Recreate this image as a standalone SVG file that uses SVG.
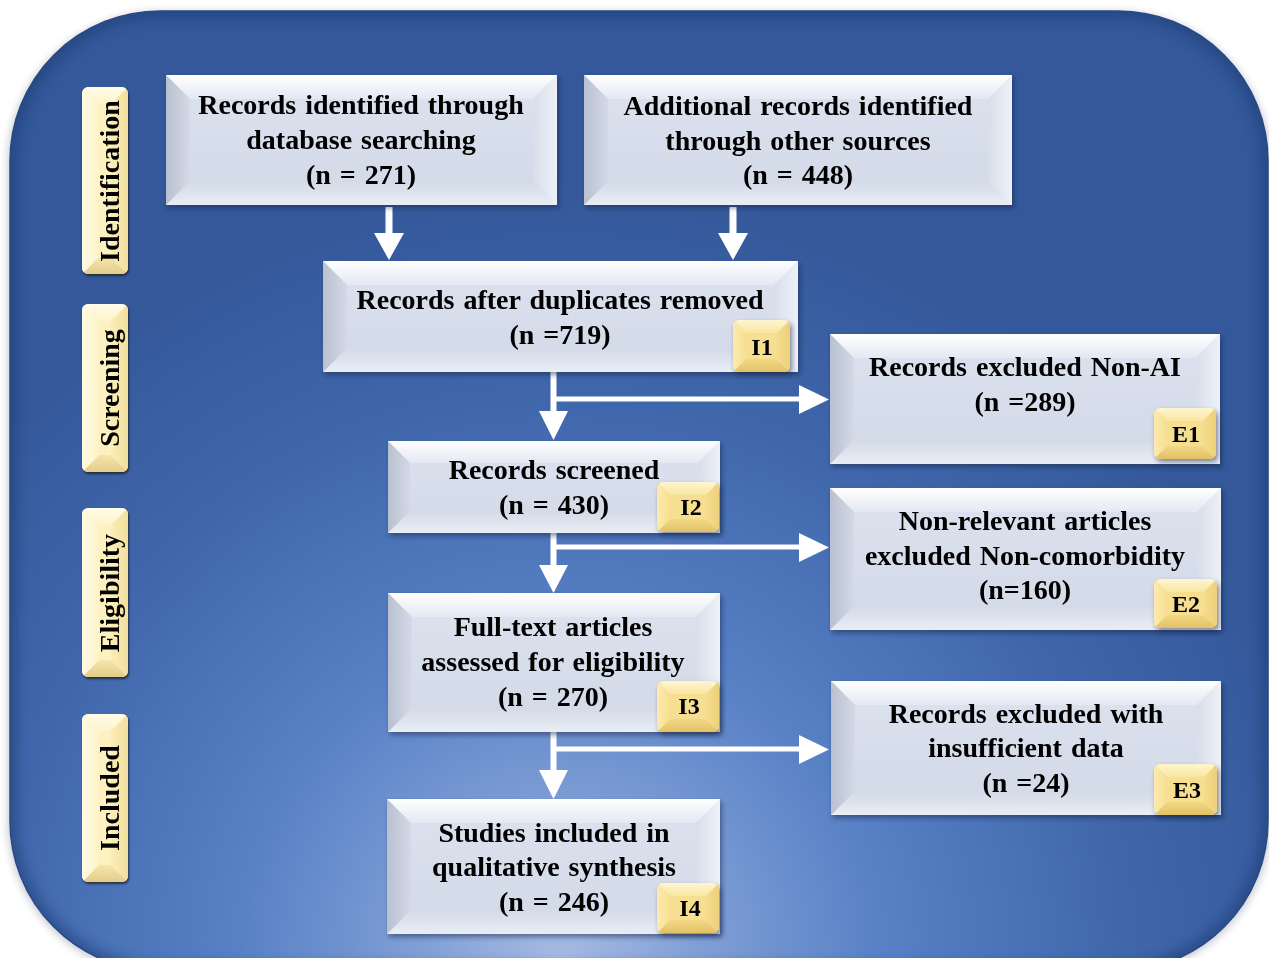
<svg xmlns="http://www.w3.org/2000/svg" width="1269" height="958" viewBox="0 0 1269 958">
  <defs>
    <style>
      .t { font-family: "Liberation Serif", "Times New Roman", serif; font-weight: bold; fill: #000; }
      .box { font-size: 28px; word-spacing: 2px; text-anchor: middle; }
      .tag { font-size: 24px; text-anchor: middle; }
      .side { font-size: 28px; text-anchor: middle; }
      .arrow { fill: #FFFFFF; }
      .face { fill: url(#faceG); }
      .bt { fill: url(#topG); }
      .bl { fill: url(#leftG); }
      .br { fill: url(#rightG); }
      .bb { fill: url(#botG); }
      .yface { fill: #F7DF92; }
      .yt { fill: url(#yTopG); }
      .yl { fill: url(#yLeftG); }
      .yr { fill: url(#yRightG); }
      .yb { fill: url(#yBotG); }
      .lface { fill: #FDF1BF; }
      .lt { fill: url(#lTopG); }
      .ll { fill: url(#lLeftG); }
      .lr { fill: url(#lRightG); }
      .lb { fill: url(#lBotG); }
    </style>

    <!-- panel background -->
    <radialGradient id="bgGrad" gradientUnits="userSpaceOnUse" cx="560" cy="960" r="780">
      <stop offset="0" stop-color="#A6BBE3"/>
      <stop offset="0.18" stop-color="#809FD6"/>
      <stop offset="0.42" stop-color="#5780C5"/>
      <stop offset="0.72" stop-color="#4067AB"/>
      <stop offset="1" stop-color="#34589A"/>
    </radialGradient>
    <clipPath id="panelClip">
      <rect x="10" y="11" width="1258" height="960" rx="150" ry="150"/>
    </clipPath>
    <filter id="panelShadow" x="-5%" y="-5%" width="110%" height="110%">
      <feGaussianBlur stdDeviation="4"/>
    </filter>
    <filter id="edgeBlur" x="-5%" y="-5%" width="110%" height="110%">
      <feGaussianBlur stdDeviation="6"/>
    </filter>

    <!-- grey-blue bevelled boxes -->
    <linearGradient id="faceG" x1="0" y1="0" x2="0" y2="1">
      <stop offset="0" stop-color="#DCE2EE"/>
      <stop offset="1" stop-color="#D2D9E7"/>
    </linearGradient>
    <linearGradient id="topG" x1="0" y1="0" x2="0" y2="1">
      <stop offset="0" stop-color="#FFFFFF"/>
      <stop offset="1" stop-color="#E3E8F2"/>
    </linearGradient>
    <linearGradient id="leftG" x1="0" y1="0" x2="1" y2="0">
      <stop offset="0" stop-color="#B9C0D0"/>
      <stop offset="1" stop-color="#D3D9E6"/>
    </linearGradient>
    <linearGradient id="rightG" x1="1" y1="0" x2="0" y2="0">
      <stop offset="0" stop-color="#EEF1F7"/>
      <stop offset="1" stop-color="#D8DEEA"/>
    </linearGradient>
    <linearGradient id="botG" x1="0" y1="1" x2="0" y2="0">
      <stop offset="0" stop-color="#E9EDF5"/>
      <stop offset="1" stop-color="#D3DAE7"/>
    </linearGradient>

    <!-- gold badges -->
    <linearGradient id="yTopG" x1="0" y1="0" x2="0" y2="1">
      <stop offset="0" stop-color="#FFF6D0"/>
      <stop offset="1" stop-color="#F9E6A2"/>
    </linearGradient>
    <linearGradient id="yLeftG" x1="0" y1="0" x2="1" y2="0">
      <stop offset="0" stop-color="#FCEBAE"/>
      <stop offset="1" stop-color="#F7DF92"/>
    </linearGradient>
    <linearGradient id="yRightG" x1="1" y1="0" x2="0" y2="0">
      <stop offset="0" stop-color="#EDD07A"/>
      <stop offset="1" stop-color="#F5DC8E"/>
    </linearGradient>
    <linearGradient id="yBotG" x1="0" y1="1" x2="0" y2="0">
      <stop offset="0" stop-color="#E2C163"/>
      <stop offset="1" stop-color="#F2D885"/>
    </linearGradient>

    <!-- pale yellow phase labels -->
    <linearGradient id="lTopG" x1="0" y1="0" x2="0" y2="1">
      <stop offset="0" stop-color="#FFFBE8"/>
      <stop offset="1" stop-color="#FEF4CC"/>
    </linearGradient>
    <linearGradient id="lLeftG" x1="0" y1="0" x2="1" y2="0">
      <stop offset="0" stop-color="#FFFBE4"/>
      <stop offset="1" stop-color="#FEF3C8"/>
    </linearGradient>
    <linearGradient id="lRightG" x1="1" y1="0" x2="0" y2="0">
      <stop offset="0" stop-color="#F1DF9E"/>
      <stop offset="1" stop-color="#FBEDB6"/>
    </linearGradient>
    <linearGradient id="lBotG" x1="0" y1="1" x2="0" y2="0">
      <stop offset="0" stop-color="#E2CD8A"/>
      <stop offset="1" stop-color="#F6E6AC"/>
    </linearGradient>

    <clipPath id="rrBadge" clipPathUnits="objectBoundingBox">
      <rect width="1" height="1" rx="0.11" ry="0.12"/>
    </clipPath>
    <clipPath id="rrLabel" clipPathUnits="objectBoundingBox">
      <rect width="1" height="1" rx="0.14" ry="0.035"/>
    </clipPath>

    <filter id="boxShadow" x="-10%" y="-10%" width="120%" height="130%">
      <feDropShadow dx="2" dy="3" stdDeviation="2.5" flood-color="#0B1C3F" flood-opacity="0.5"/>
    </filter>
    <filter id="labelShadow" x="-20%" y="-10%" width="140%" height="120%">
      <feDropShadow dx="1" dy="2" stdDeviation="1.2" flood-color="#1A1A1A" flood-opacity="0.75"/>
    </filter>
  </defs>

  <!-- white page and rounded blue panel -->
  <rect x="0" y="0" width="1269" height="958" fill="#FFFFFF"/>
  <rect x="8" y="12" width="1262" height="962" rx="152" ry="152" fill="#8C96A8" opacity="0.55" filter="url(#panelShadow)"/>
  <rect x="10" y="11" width="1258" height="960" rx="150" ry="150" fill="url(#bgGrad)"/>
  <g clip-path="url(#panelClip)">
    <rect x="10" y="11" width="1258" height="960" rx="150" ry="150" fill="none" stroke="#1E3A72" stroke-width="14" opacity="0.55" filter="url(#edgeBlur)"/>
  </g>
  <rect x="10" y="11" width="1258" height="960" rx="150" ry="150" fill="none" stroke="#2A4883" stroke-width="1.5"/>

  <!-- phase labels -->
  <g id="label-identification" filter="url(#labelShadow)">
    <g clip-path="url(#rrLabel)">
      <rect class="lface" x="82" y="87" width="46" height="187"/>
      <polygon class="lt" points="82,87 128,87 111,104 99,104"/>
      <polygon class="lb" points="82,274 128,274 111,257 99,257"/>
      <polygon class="ll" points="82,87 99,104 99,257 82,274"/>
      <polygon class="lr" points="128,87 111,104 111,257 128,274"/>
    </g>
    <text class="t side" transform="translate(119,181) rotate(-90)">Identification</text>
  </g>
  <g id="label-screening" filter="url(#labelShadow)">
    <g clip-path="url(#rrLabel)">
      <rect class="lface" x="82" y="304" width="46" height="168"/>
      <polygon class="lt" points="82,304 128,304 111,321 99,321"/>
      <polygon class="lb" points="82,472 128,472 111,455 99,455"/>
      <polygon class="ll" points="82,304 99,321 99,455 82,472"/>
      <polygon class="lr" points="128,304 111,321 111,455 128,472"/>
    </g>
    <text class="t side" transform="translate(119,388) rotate(-90)">Screening</text>
  </g>
  <g id="label-eligibility" filter="url(#labelShadow)">
    <g clip-path="url(#rrLabel)">
      <rect class="lface" x="82" y="508" width="46" height="169"/>
      <polygon class="lt" points="82,508 128,508 111,525 99,525"/>
      <polygon class="lb" points="82,677 128,677 111,660 99,660"/>
      <polygon class="ll" points="82,508 99,525 99,660 82,677"/>
      <polygon class="lr" points="128,508 111,525 111,660 128,677"/>
    </g>
    <text class="t side" transform="translate(119,593) rotate(-90)">Eligibility</text>
  </g>
  <g id="label-included" filter="url(#labelShadow)">
    <g clip-path="url(#rrLabel)">
      <rect class="lface" x="82" y="714" width="46" height="168"/>
      <polygon class="lt" points="82,714 128,714 111,731 99,731"/>
      <polygon class="lb" points="82,882 128,882 111,865 99,865"/>
      <polygon class="ll" points="82,714 99,731 99,865 82,882"/>
      <polygon class="lr" points="128,714 111,731 111,865 128,882"/>
    </g>
    <text class="t side" transform="translate(119,798) rotate(-90)">Included</text>
  </g>

  <!-- connectors -->
  <g id="connectors">
    <rect class="arrow" x="385.5" y="207" width="7" height="28"/>
    <polygon class="arrow" points="374,233 404,233 389,260"/>
    <rect class="arrow" x="729.5" y="207" width="7" height="28"/>
    <polygon class="arrow" points="718,233 748,233 733,260"/>

    <rect class="arrow" x="550.5" y="372" width="6" height="41"/>
    <polygon class="arrow" points="539,411 568,411 553.5,440"/>
    <rect class="arrow" x="553" y="396.5" width="248" height="5"/>
    <polygon class="arrow" points="799,385 799,414 829,399.5"/>

    <rect class="arrow" x="550.5" y="533" width="6" height="34"/>
    <polygon class="arrow" points="539,565 568,565 553.5,593"/>
    <rect class="arrow" x="553" y="544.5" width="248" height="5"/>
    <polygon class="arrow" points="799,533 799,562 829,547.5"/>

    <rect class="arrow" x="550.5" y="732" width="6" height="40"/>
    <polygon class="arrow" points="539,770 568,770 553.5,799"/>
    <rect class="arrow" x="553" y="746.5" width="248" height="5"/>
    <polygon class="arrow" points="799,735 799,764 829,749.5"/>
  </g>

  <!-- records identified through database searching -->
  <g id="node-database" filter="url(#boxShadow)">
    <rect class="face" x="166" y="75" width="391" height="130"/>
    <polygon class="bt" points="166,75 557,75 533,99 190,99"/>
    <polygon class="bb" points="166,205 557,205 533,181 190,181"/>
    <polygon class="bl" points="166,75 190,99 190,181 166,205"/>
    <polygon class="br" points="557,75 533,99 533,181 557,205"/>
    <text class="t box" x="361" y="114">Records identified through</text>
    <text class="t box" x="361" y="149">database searching</text>
    <text class="t box" x="361" y="184">(n = 271)</text>
  </g>

  <!-- additional records -->
  <g id="node-other-sources" filter="url(#boxShadow)">
    <rect class="face" x="584" y="75" width="428" height="130"/>
    <polygon class="bt" points="584,75 1012,75 988,99 608,99"/>
    <polygon class="bb" points="584,205 1012,205 988,181 608,181"/>
    <polygon class="bl" points="584,75 608,99 608,181 584,205"/>
    <polygon class="br" points="1012,75 988,99 988,181 1012,205"/>
    <text class="t box" x="798" y="115">Additional records identified</text>
    <text class="t box" x="798" y="150">through other sources</text>
    <text class="t box" x="798" y="184">(n = 448)</text>
  </g>

  <!-- duplicates removed -->
  <g id="node-duplicates" filter="url(#boxShadow)">
    <rect class="face" x="323" y="261" width="475" height="111"/>
    <polygon class="bt" points="323,261 798,261 774,285 347,285"/>
    <polygon class="bb" points="323,372 798,372 774,348 347,348"/>
    <polygon class="bl" points="323,261 347,285 347,348 323,372"/>
    <polygon class="br" points="798,261 774,285 774,348 798,372"/>
    <text class="t box" x="560" y="309">Records after duplicates removed</text>
    <text class="t box" x="560" y="344">(n =719)</text>
  </g>
  <g id="badge-i1" filter="url(#boxShadow)">
    <g clip-path="url(#rrBadge)">
      <rect class="yface" x="733" y="320" width="57" height="52"/>
      <polygon class="yt" points="733,320 790,320 777,333 746,333"/>
      <polygon class="yb" points="733,372 790,372 777,359 746,359"/>
      <polygon class="yl" points="733,320 746,333 746,359 733,372"/>
      <polygon class="yr" points="790,320 777,333 777,359 790,372"/>
    </g>
    <text class="t tag" x="762" y="355">I1</text>
  </g>

  <!-- excluded non-AI -->
  <g id="node-excluded-nonai" filter="url(#boxShadow)">
    <rect class="face" x="830" y="334" width="390" height="130"/>
    <polygon class="bt" points="830,334 1220,334 1196,358 854,358"/>
    <polygon class="bb" points="830,464 1220,464 1196,440 854,440"/>
    <polygon class="bl" points="830,334 854,358 854,440 830,464"/>
    <polygon class="br" points="1220,334 1196,358 1196,440 1220,464"/>
    <text class="t box" x="1025" y="376">Records excluded Non-AI</text>
    <text class="t box" x="1025" y="411">(n =289)</text>
  </g>
  <g id="badge-e1" filter="url(#boxShadow)">
    <g clip-path="url(#rrBadge)">
      <rect class="yface" x="1154" y="408" width="62" height="51"/>
      <polygon class="yt" points="1154,408 1216,408 1203,421 1167,421"/>
      <polygon class="yb" points="1154,459 1216,459 1203,446 1167,446"/>
      <polygon class="yl" points="1154,408 1167,421 1167,446 1154,459"/>
      <polygon class="yr" points="1216,408 1203,421 1203,446 1216,459"/>
    </g>
    <text class="t tag" x="1186" y="442">E1</text>
  </g>

  <!-- records screened -->
  <g id="node-screened" filter="url(#boxShadow)">
    <rect class="face" x="388" y="441" width="332" height="92"/>
    <polygon class="bt" points="388,441 720,441 698,463 410,463"/>
    <polygon class="bb" points="388,533 720,533 698,511 410,511"/>
    <polygon class="bl" points="388,441 410,463 410,511 388,533"/>
    <polygon class="br" points="720,441 698,463 698,511 720,533"/>
    <text class="t box" x="554" y="479">Records screened</text>
    <text class="t box" x="554" y="514">(n = 430)</text>
  </g>
  <g id="badge-i2" filter="url(#boxShadow)">
    <g clip-path="url(#rrBadge)">
      <rect class="yface" x="657" y="482" width="62" height="50"/>
      <polygon class="yt" points="657,482 719,482 706,495 670,495"/>
      <polygon class="yb" points="657,532 719,532 706,519 670,519"/>
      <polygon class="yl" points="657,482 670,495 670,519 657,532"/>
      <polygon class="yr" points="719,482 706,495 706,519 719,532"/>
    </g>
    <text class="t tag" x="691" y="515">I2</text>
  </g>

  <!-- non-relevant articles -->
  <g id="node-excluded-noncomorbidity" filter="url(#boxShadow)">
    <rect class="face" x="830" y="488" width="391" height="142"/>
    <polygon class="bt" points="830,488 1221,488 1197,512 854,512"/>
    <polygon class="bb" points="830,630 1221,630 1197,606 854,606"/>
    <polygon class="bl" points="830,488 854,512 854,606 830,630"/>
    <polygon class="br" points="1221,488 1197,512 1197,606 1221,630"/>
    <text class="t box" x="1025" y="530">Non-relevant articles</text>
    <text class="t box" x="1025" y="565">excluded Non-comorbidity</text>
    <text class="t box" x="1025" y="599">(n=160)</text>
  </g>
  <g id="badge-e2" filter="url(#boxShadow)">
    <g clip-path="url(#rrBadge)">
      <rect class="yface" x="1154" y="579" width="63" height="49"/>
      <polygon class="yt" points="1154,579 1217,579 1204,592 1167,592"/>
      <polygon class="yb" points="1154,628 1217,628 1204,615 1167,615"/>
      <polygon class="yl" points="1154,579 1167,592 1167,615 1154,628"/>
      <polygon class="yr" points="1217,579 1204,592 1204,615 1217,628"/>
    </g>
    <text class="t tag" x="1186" y="612">E2</text>
  </g>

  <!-- full-text articles -->
  <g id="node-fulltext" filter="url(#boxShadow)">
    <rect class="face" x="388" y="593" width="332" height="139"/>
    <polygon class="bt" points="388,593 720,593 696,617 412,617"/>
    <polygon class="bb" points="388,732 720,732 696,708 412,708"/>
    <polygon class="bl" points="388,593 412,617 412,708 388,732"/>
    <polygon class="br" points="720,593 696,617 696,708 720,732"/>
    <text class="t box" x="553" y="636">Full-text articles</text>
    <text class="t box" x="553" y="671">assessed for eligibility</text>
    <text class="t box" x="553" y="706">(n = 270)</text>
  </g>
  <g id="badge-i3" filter="url(#boxShadow)">
    <g clip-path="url(#rrBadge)">
      <rect class="yface" x="657" y="681" width="62" height="51"/>
      <polygon class="yt" points="657,681 719,681 706,694 670,694"/>
      <polygon class="yb" points="657,732 719,732 706,719 670,719"/>
      <polygon class="yl" points="657,681 670,694 670,719 657,732"/>
      <polygon class="yr" points="719,681 706,694 706,719 719,732"/>
    </g>
    <text class="t tag" x="689" y="714">I3</text>
  </g>

  <!-- insufficient data -->
  <g id="node-excluded-insufficient" filter="url(#boxShadow)">
    <rect class="face" x="831" y="681" width="390" height="134"/>
    <polygon class="bt" points="831,681 1221,681 1197,705 855,705"/>
    <polygon class="bb" points="831,815 1221,815 1197,791 855,791"/>
    <polygon class="bl" points="831,681 855,705 855,791 831,815"/>
    <polygon class="br" points="1221,681 1197,705 1197,791 1221,815"/>
    <text class="t box" x="1026" y="723">Records excluded with</text>
    <text class="t box" x="1026" y="757">insufficient data</text>
    <text class="t box" x="1026" y="792">(n =24)</text>
  </g>
  <g id="badge-e3" filter="url(#boxShadow)">
    <g clip-path="url(#rrBadge)">
      <rect class="yface" x="1154" y="764" width="63" height="51"/>
      <polygon class="yt" points="1154,764 1217,764 1204,777 1167,777"/>
      <polygon class="yb" points="1154,815 1217,815 1204,802 1167,802"/>
      <polygon class="yl" points="1154,764 1167,777 1167,802 1154,815"/>
      <polygon class="yr" points="1217,764 1204,777 1204,802 1217,815"/>
    </g>
    <text class="t tag" x="1187" y="798">E3</text>
  </g>

  <!-- studies included -->
  <g id="node-included" filter="url(#boxShadow)">
    <rect class="face" x="387" y="799" width="333" height="135"/>
    <polygon class="bt" points="387,799 720,799 696,823 411,823"/>
    <polygon class="bb" points="387,934 720,934 696,910 411,910"/>
    <polygon class="bl" points="387,799 411,823 411,910 387,934"/>
    <polygon class="br" points="720,799 696,823 696,910 720,934"/>
    <text class="t box" x="554" y="842">Studies included in</text>
    <text class="t box" x="554" y="876">qualitative synthesis</text>
    <text class="t box" x="554" y="911">(n = 246)</text>
  </g>
  <g id="badge-i4" filter="url(#boxShadow)">
    <g clip-path="url(#rrBadge)">
      <rect class="yface" x="657" y="883" width="62" height="50"/>
      <polygon class="yt" points="657,883 719,883 706,896 670,896"/>
      <polygon class="yb" points="657,933 719,933 706,920 670,920"/>
      <polygon class="yl" points="657,883 670,896 670,920 657,933"/>
      <polygon class="yr" points="719,883 706,896 706,920 719,933"/>
    </g>
    <text class="t tag" x="690" y="916">I4</text>
  </g>
</svg>
